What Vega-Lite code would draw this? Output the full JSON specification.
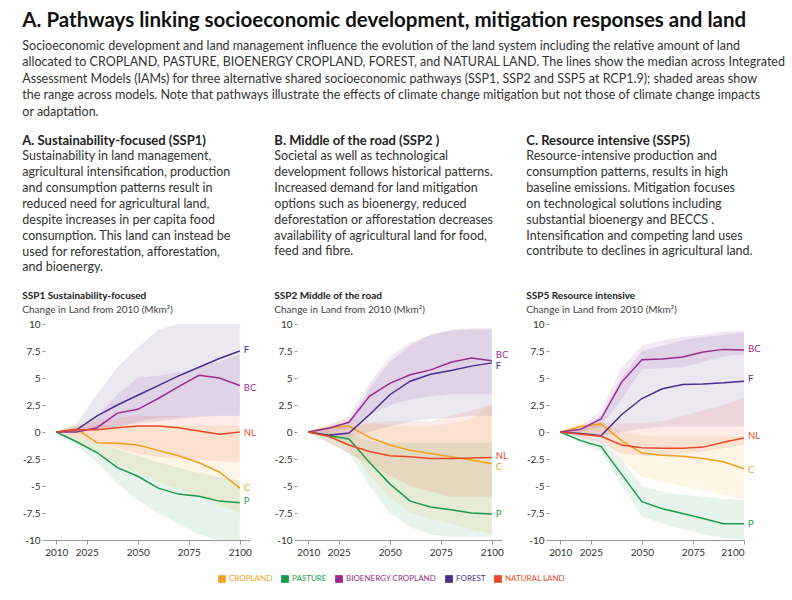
{
  "$schema": "https://vega.github.io/schema/vega-lite/v6.json",
  "padding": {"left": 22, "top": 10, "right": 10, "bottom": 4},
  "background": "white",
  "title": {
    "text": "A. Pathways linking socioeconomic development, mitigation responses and land",
    "subtitle": [
      "Socioeconomic development and land management influence the evolution of the land system including the relative amount of land",
      "allocated to CROPLAND, PASTURE, BIOENERGY CROPLAND, FOREST, and NATURAL LAND. The lines show the median across Integrated",
      "Assessment Models (IAMs) for three alternative shared socioeconomic pathways (SSP1, SSP2 and SSP5 at RCP1.9); shaded areas show",
      "the range across models. Note that pathways illustrate the effects of climate change mitigation but not those of climate change impacts",
      "or adaptation."
    ],
    "anchor": "start",
    "frame": "bounds",
    "font": "Lato",
    "fontSize": 20.5,
    "fontWeight": "bold",
    "color": "#111111",
    "subtitleFont": "Lato",
    "subtitleFontSize": 12.5,
    "subtitleColor": "#333333",
    "subtitleLineHeight": 16.4,
    "subtitlePadding": 9,
    "offset": 17
  },
  "datasets": {
    "d": [
      {"s":"SSP1","c":"CROPLAND","y":2010,"m":0,"lo":0,"hi":0},
      {"s":"SSP1","c":"CROPLAND","y":2020,"m":0.3,"lo":-0.8,"hi":0.6},
      {"s":"SSP1","c":"CROPLAND","y":2030,"m":-1.0,"lo":-2.0,"hi":0.6},
      {"s":"SSP1","c":"CROPLAND","y":2040,"m":-1.05,"lo":-3.0,"hi":0.6},
      {"s":"SSP1","c":"CROPLAND","y":2050,"m":-1.2,"lo":-3.8,"hi":0.6},
      {"s":"SSP1","c":"CROPLAND","y":2060,"m":-1.7,"lo":-4.6,"hi":0.6},
      {"s":"SSP1","c":"CROPLAND","y":2070,"m":-2.2,"lo":-5.3,"hi":0.6},
      {"s":"SSP1","c":"CROPLAND","y":2080,"m":-2.85,"lo":-6.0,"hi":0.6},
      {"s":"SSP1","c":"CROPLAND","y":2090,"m":-3.7,"lo":-6.8,"hi":0.6},
      {"s":"SSP1","c":"CROPLAND","y":2100,"m":-5.2,"lo":-7.5,"hi":0.6},
      {"s":"SSP1","c":"PASTURE","y":2010,"m":0,"lo":0,"hi":0},
      {"s":"SSP1","c":"PASTURE","y":2020,"m":-0.9,"lo":-1.3,"hi":-0.5},
      {"s":"SSP1","c":"PASTURE","y":2030,"m":-1.9,"lo":-2.8,"hi":-1.0},
      {"s":"SSP1","c":"PASTURE","y":2040,"m":-3.3,"lo":-4.8,"hi":-1.6},
      {"s":"SSP1","c":"PASTURE","y":2050,"m":-4.1,"lo":-6.3,"hi":-2.2},
      {"s":"SSP1","c":"PASTURE","y":2060,"m":-5.2,"lo":-7.5,"hi":-2.8},
      {"s":"SSP1","c":"PASTURE","y":2070,"m":-5.75,"lo":-8.5,"hi":-3.3},
      {"s":"SSP1","c":"PASTURE","y":2080,"m":-5.95,"lo":-9.5,"hi":-3.8},
      {"s":"SSP1","c":"PASTURE","y":2090,"m":-6.4,"lo":-10,"hi":-4.2},
      {"s":"SSP1","c":"PASTURE","y":2100,"m":-6.55,"lo":-10,"hi":-4.5},
      {"s":"SSP1","c":"BIOENERGY CROPLAND","y":2010,"m":0,"lo":0,"hi":0},
      {"s":"SSP1","c":"BIOENERGY CROPLAND","y":2020,"m":0,"lo":0,"hi":0.4},
      {"s":"SSP1","c":"BIOENERGY CROPLAND","y":2030,"m":0.4,"lo":0.1,"hi":1.5},
      {"s":"SSP1","c":"BIOENERGY CROPLAND","y":2040,"m":1.75,"lo":0.5,"hi":3.5},
      {"s":"SSP1","c":"BIOENERGY CROPLAND","y":2050,"m":2.1,"lo":1.0,"hi":5.0},
      {"s":"SSP1","c":"BIOENERGY CROPLAND","y":2060,"m":3.1,"lo":1.3,"hi":5.2},
      {"s":"SSP1","c":"BIOENERGY CROPLAND","y":2070,"m":4.2,"lo":1.4,"hi":5.5},
      {"s":"SSP1","c":"BIOENERGY CROPLAND","y":2080,"m":5.25,"lo":1.5,"hi":6.0},
      {"s":"SSP1","c":"BIOENERGY CROPLAND","y":2090,"m":5.0,"lo":1.5,"hi":6.5},
      {"s":"SSP1","c":"BIOENERGY CROPLAND","y":2100,"m":4.3,"lo":1.5,"hi":7.2},
      {"s":"SSP1","c":"FOREST","y":2010,"m":0,"lo":0,"hi":0},
      {"s":"SSP1","c":"FOREST","y":2020,"m":0.2,"lo":0,"hi":0.8},
      {"s":"SSP1","c":"FOREST","y":2030,"m":1.5,"lo":0.3,"hi":3.5},
      {"s":"SSP1","c":"FOREST","y":2040,"m":2.5,"lo":0.5,"hi":6.0},
      {"s":"SSP1","c":"FOREST","y":2050,"m":3.4,"lo":0.8,"hi":7.8},
      {"s":"SSP1","c":"FOREST","y":2060,"m":4.3,"lo":1.0,"hi":9.5},
      {"s":"SSP1","c":"FOREST","y":2070,"m":5.2,"lo":1.2,"hi":10},
      {"s":"SSP1","c":"FOREST","y":2080,"m":6.0,"lo":1.4,"hi":10},
      {"s":"SSP1","c":"FOREST","y":2090,"m":6.8,"lo":1.5,"hi":10},
      {"s":"SSP1","c":"FOREST","y":2100,"m":7.5,"lo":1.5,"hi":10},
      {"s":"SSP1","c":"NATURAL LAND","y":2010,"m":0,"lo":0,"hi":0},
      {"s":"SSP1","c":"NATURAL LAND","y":2020,"m":0.2,"lo":-0.5,"hi":0.6},
      {"s":"SSP1","c":"NATURAL LAND","y":2030,"m":0.2,"lo":-1.0,"hi":1.0},
      {"s":"SSP1","c":"NATURAL LAND","y":2040,"m":0.4,"lo":-1.5,"hi":1.3},
      {"s":"SSP1","c":"NATURAL LAND","y":2050,"m":0.55,"lo":-2.0,"hi":1.5},
      {"s":"SSP1","c":"NATURAL LAND","y":2060,"m":0.55,"lo":-2.3,"hi":1.5},
      {"s":"SSP1","c":"NATURAL LAND","y":2070,"m":0.4,"lo":-2.5,"hi":1.5},
      {"s":"SSP1","c":"NATURAL LAND","y":2080,"m":0.1,"lo":-2.6,"hi":1.5},
      {"s":"SSP1","c":"NATURAL LAND","y":2090,"m":-0.2,"lo":-2.7,"hi":1.5},
      {"s":"SSP1","c":"NATURAL LAND","y":2100,"m":0,"lo":-2.8,"hi":1.5},

      {"s":"SSP2","c":"CROPLAND","y":2010,"m":0,"lo":0,"hi":0},
      {"s":"SSP2","c":"CROPLAND","y":2020,"m":0.4,"lo":-0.5,"hi":0.8},
      {"s":"SSP2","c":"CROPLAND","y":2030,"m":0.55,"lo":-1.5,"hi":1.2},
      {"s":"SSP2","c":"CROPLAND","y":2040,"m":-0.5,"lo":-4.0,"hi":0.8},
      {"s":"SSP2","c":"CROPLAND","y":2050,"m":-1.2,"lo":-6.0,"hi":0.6},
      {"s":"SSP2","c":"CROPLAND","y":2060,"m":-1.7,"lo":-7.5,"hi":0.5},
      {"s":"SSP2","c":"CROPLAND","y":2070,"m":-2.0,"lo":-8.0,"hi":0.5},
      {"s":"SSP2","c":"CROPLAND","y":2080,"m":-2.3,"lo":-8.5,"hi":0.8},
      {"s":"SSP2","c":"CROPLAND","y":2090,"m":-2.6,"lo":-9.0,"hi":1.2},
      {"s":"SSP2","c":"CROPLAND","y":2100,"m":-2.95,"lo":-9.5,"hi":2.8},
      {"s":"SSP2","c":"PASTURE","y":2010,"m":0,"lo":0,"hi":0},
      {"s":"SSP2","c":"PASTURE","y":2020,"m":-0.35,"lo":-1.0,"hi":0},
      {"s":"SSP2","c":"PASTURE","y":2030,"m":-0.65,"lo":-2.0,"hi":-0.2},
      {"s":"SSP2","c":"PASTURE","y":2040,"m":-2.8,"lo":-5.0,"hi":-0.8},
      {"s":"SSP2","c":"PASTURE","y":2050,"m":-4.8,"lo":-7.5,"hi":-1.0},
      {"s":"SSP2","c":"PASTURE","y":2060,"m":-6.4,"lo":-8.8,"hi":-1.0},
      {"s":"SSP2","c":"PASTURE","y":2070,"m":-6.95,"lo":-9.5,"hi":-1.0},
      {"s":"SSP2","c":"PASTURE","y":2080,"m":-7.2,"lo":-9.7,"hi":-1.0},
      {"s":"SSP2","c":"PASTURE","y":2090,"m":-7.5,"lo":-9.7,"hi":-1.0},
      {"s":"SSP2","c":"PASTURE","y":2100,"m":-7.6,"lo":-9.7,"hi":-1.0},
      {"s":"SSP2","c":"BIOENERGY CROPLAND","y":2010,"m":0,"lo":0,"hi":0},
      {"s":"SSP2","c":"BIOENERGY CROPLAND","y":2020,"m":0.35,"lo":0,"hi":0.6},
      {"s":"SSP2","c":"BIOENERGY CROPLAND","y":2030,"m":0.9,"lo":0.3,"hi":1.5},
      {"s":"SSP2","c":"BIOENERGY CROPLAND","y":2040,"m":3.3,"lo":1.5,"hi":4.5},
      {"s":"SSP2","c":"BIOENERGY CROPLAND","y":2050,"m":4.5,"lo":2.5,"hi":7.0},
      {"s":"SSP2","c":"BIOENERGY CROPLAND","y":2060,"m":5.3,"lo":3.0,"hi":8.3},
      {"s":"SSP2","c":"BIOENERGY CROPLAND","y":2070,"m":5.75,"lo":3.3,"hi":9.0},
      {"s":"SSP2","c":"BIOENERGY CROPLAND","y":2080,"m":6.45,"lo":3.5,"hi":9.5},
      {"s":"SSP2","c":"BIOENERGY CROPLAND","y":2090,"m":6.85,"lo":3.5,"hi":9.6},
      {"s":"SSP2","c":"BIOENERGY CROPLAND","y":2100,"m":6.6,"lo":3.5,"hi":9.6},
      {"s":"SSP2","c":"FOREST","y":2010,"m":0,"lo":0,"hi":0},
      {"s":"SSP2","c":"FOREST","y":2020,"m":-0.3,"lo":-0.5,"hi":0.3},
      {"s":"SSP2","c":"FOREST","y":2030,"m":-0.1,"lo":-0.5,"hi":1.0},
      {"s":"SSP2","c":"FOREST","y":2040,"m":1.6,"lo":0,"hi":4.0},
      {"s":"SSP2","c":"FOREST","y":2050,"m":3.45,"lo":0.5,"hi":6.5},
      {"s":"SSP2","c":"FOREST","y":2060,"m":4.7,"lo":1.0,"hi":8.0},
      {"s":"SSP2","c":"FOREST","y":2070,"m":5.35,"lo":1.2,"hi":9.0},
      {"s":"SSP2","c":"FOREST","y":2080,"m":5.7,"lo":1.3,"hi":9.4},
      {"s":"SSP2","c":"FOREST","y":2090,"m":6.1,"lo":1.5,"hi":9.5},
      {"s":"SSP2","c":"FOREST","y":2100,"m":6.4,"lo":1.5,"hi":9.5},
      {"s":"SSP2","c":"NATURAL LAND","y":2010,"m":0,"lo":0,"hi":0},
      {"s":"SSP2","c":"NATURAL LAND","y":2020,"m":-0.4,"lo":-1.0,"hi":0.3},
      {"s":"SSP2","c":"NATURAL LAND","y":2030,"m":-1.2,"lo":-2.0,"hi":0.5},
      {"s":"SSP2","c":"NATURAL LAND","y":2040,"m":-1.8,"lo":-3.0,"hi":0.8},
      {"s":"SSP2","c":"NATURAL LAND","y":2050,"m":-2.2,"lo":-4.0,"hi":1.0},
      {"s":"SSP2","c":"NATURAL LAND","y":2060,"m":-2.3,"lo":-5.0,"hi":1.0},
      {"s":"SSP2","c":"NATURAL LAND","y":2070,"m":-2.45,"lo":-5.5,"hi":1.0},
      {"s":"SSP2","c":"NATURAL LAND","y":2080,"m":-2.45,"lo":-6.0,"hi":1.5},
      {"s":"SSP2","c":"NATURAL LAND","y":2090,"m":-2.4,"lo":-6.0,"hi":2.0},
      {"s":"SSP2","c":"NATURAL LAND","y":2100,"m":-2.35,"lo":-6.0,"hi":2.5},

      {"s":"SSP5","c":"CROPLAND","y":2010,"m":0,"lo":0,"hi":0},
      {"s":"SSP5","c":"CROPLAND","y":2020,"m":0.5,"lo":-0.3,"hi":0.8},
      {"s":"SSP5","c":"CROPLAND","y":2030,"m":0.75,"lo":-0.5,"hi":1.0},
      {"s":"SSP5","c":"CROPLAND","y":2040,"m":-0.8,"lo":-2.5,"hi":0},
      {"s":"SSP5","c":"CROPLAND","y":2050,"m":-1.95,"lo":-4.2,"hi":-0.3},
      {"s":"SSP5","c":"CROPLAND","y":2060,"m":-2.15,"lo":-4.6,"hi":-0.4},
      {"s":"SSP5","c":"CROPLAND","y":2070,"m":-2.25,"lo":-5.0,"hi":-0.4},
      {"s":"SSP5","c":"CROPLAND","y":2080,"m":-2.45,"lo":-5.4,"hi":-0.4},
      {"s":"SSP5","c":"CROPLAND","y":2090,"m":-2.75,"lo":-5.8,"hi":-0.4},
      {"s":"SSP5","c":"CROPLAND","y":2100,"m":-3.4,"lo":-6.2,"hi":-0.4},
      {"s":"SSP5","c":"PASTURE","y":2010,"m":0,"lo":0,"hi":0},
      {"s":"SSP5","c":"PASTURE","y":2020,"m":-0.8,"lo":-1.0,"hi":-0.3},
      {"s":"SSP5","c":"PASTURE","y":2030,"m":-1.35,"lo":-1.8,"hi":-0.8},
      {"s":"SSP5","c":"PASTURE","y":2040,"m":-3.9,"lo":-5.0,"hi":-2.5},
      {"s":"SSP5","c":"PASTURE","y":2050,"m":-6.45,"lo":-7.8,"hi":-5.0},
      {"s":"SSP5","c":"PASTURE","y":2060,"m":-7.1,"lo":-8.5,"hi":-5.5},
      {"s":"SSP5","c":"PASTURE","y":2070,"m":-7.55,"lo":-9.0,"hi":-5.8},
      {"s":"SSP5","c":"PASTURE","y":2080,"m":-8.0,"lo":-9.5,"hi":-6.0},
      {"s":"SSP5","c":"PASTURE","y":2090,"m":-8.5,"lo":-9.8,"hi":-6.2},
      {"s":"SSP5","c":"PASTURE","y":2100,"m":-8.5,"lo":-10,"hi":-6.3},
      {"s":"SSP5","c":"BIOENERGY CROPLAND","y":2010,"m":0,"lo":0,"hi":0},
      {"s":"SSP5","c":"BIOENERGY CROPLAND","y":2020,"m":0.25,"lo":0,"hi":0.5},
      {"s":"SSP5","c":"BIOENERGY CROPLAND","y":2030,"m":1.2,"lo":0.5,"hi":2.0},
      {"s":"SSP5","c":"BIOENERGY CROPLAND","y":2040,"m":4.6,"lo":3.0,"hi":6.0},
      {"s":"SSP5","c":"BIOENERGY CROPLAND","y":2050,"m":6.7,"lo":5.8,"hi":8.0},
      {"s":"SSP5","c":"BIOENERGY CROPLAND","y":2060,"m":6.75,"lo":5.9,"hi":8.5},
      {"s":"SSP5","c":"BIOENERGY CROPLAND","y":2070,"m":6.95,"lo":6.0,"hi":8.8},
      {"s":"SSP5","c":"BIOENERGY CROPLAND","y":2080,"m":7.4,"lo":6.5,"hi":9.0},
      {"s":"SSP5","c":"BIOENERGY CROPLAND","y":2090,"m":7.65,"lo":7.0,"hi":9.3},
      {"s":"SSP5","c":"BIOENERGY CROPLAND","y":2100,"m":7.6,"lo":7.2,"hi":9.4},
      {"s":"SSP5","c":"FOREST","y":2010,"m":0,"lo":0,"hi":0},
      {"s":"SSP5","c":"FOREST","y":2020,"m":-0.15,"lo":-0.3,"hi":0.3},
      {"s":"SSP5","c":"FOREST","y":2030,"m":-0.35,"lo":-0.5,"hi":1.5},
      {"s":"SSP5","c":"FOREST","y":2040,"m":1.6,"lo":0,"hi":5.0},
      {"s":"SSP5","c":"FOREST","y":2050,"m":3.1,"lo":0.3,"hi":7.5},
      {"s":"SSP5","c":"FOREST","y":2060,"m":4.0,"lo":0.5,"hi":8.0},
      {"s":"SSP5","c":"FOREST","y":2070,"m":4.4,"lo":0.5,"hi":8.5},
      {"s":"SSP5","c":"FOREST","y":2080,"m":4.45,"lo":0.5,"hi":8.8},
      {"s":"SSP5","c":"FOREST","y":2090,"m":4.55,"lo":0.5,"hi":9.0},
      {"s":"SSP5","c":"FOREST","y":2100,"m":4.7,"lo":0.5,"hi":9.2},
      {"s":"SSP5","c":"NATURAL LAND","y":2010,"m":0,"lo":0,"hi":0},
      {"s":"SSP5","c":"NATURAL LAND","y":2020,"m":-0.2,"lo":-0.5,"hi":0.3},
      {"s":"SSP5","c":"NATURAL LAND","y":2030,"m":-0.4,"lo":-1.0,"hi":0.8},
      {"s":"SSP5","c":"NATURAL LAND","y":2040,"m":-1.2,"lo":-2.0,"hi":0.8},
      {"s":"SSP5","c":"NATURAL LAND","y":2050,"m":-1.45,"lo":-2.2,"hi":0.8},
      {"s":"SSP5","c":"NATURAL LAND","y":2060,"m":-1.5,"lo":-2.2,"hi":1.0},
      {"s":"SSP5","c":"NATURAL LAND","y":2070,"m":-1.5,"lo":-2.0,"hi":1.5},
      {"s":"SSP5","c":"NATURAL LAND","y":2080,"m":-1.4,"lo":-1.8,"hi":2.0},
      {"s":"SSP5","c":"NATURAL LAND","y":2090,"m":-0.95,"lo":-1.5,"hi":2.5},
      {"s":"SSP5","c":"NATURAL LAND","y":2100,"m":-0.55,"lo":-1.2,"hi":3.2}
    ],
    "lab": [
      {"s":"SSP1","c":"CROPLAND","y":2100,"v":-5.2,"t":"C"},
      {"s":"SSP1","c":"PASTURE","y":2100,"v":-6.4,"t":"P"},
      {"s":"SSP1","c":"BIOENERGY CROPLAND","y":2100,"v":4.1,"t":"BC"},
      {"s":"SSP1","c":"FOREST","y":2100,"v":7.6,"t":"F"},
      {"s":"SSP1","c":"NATURAL LAND","y":2100,"v":-0.1,"t":"NL"},
      {"s":"SSP2","c":"CROPLAND","y":2100,"v":-3.2,"t":"C"},
      {"s":"SSP2","c":"PASTURE","y":2100,"v":-7.6,"t":"P"},
      {"s":"SSP2","c":"BIOENERGY CROPLAND","y":2100,"v":7.15,"t":"BC"},
      {"s":"SSP2","c":"FOREST","y":2100,"v":6.15,"t":"F"},
      {"s":"SSP2","c":"NATURAL LAND","y":2100,"v":-2.2,"t":"NL"},
      {"s":"SSP5","c":"CROPLAND","y":2100,"v":-3.55,"t":"C"},
      {"s":"SSP5","c":"PASTURE","y":2100,"v":-8.5,"t":"P"},
      {"s":"SSP5","c":"BIOENERGY CROPLAND","y":2100,"v":7.65,"t":"BC"},
      {"s":"SSP5","c":"FOREST","y":2100,"v":4.9,"t":"F"},
      {"s":"SSP5","c":"NATURAL LAND","y":2100,"v":-0.37,"t":"NL"}
    ]
  },
  "hconcat": [
    {
      "title": {
        "text": "A. Sustainability-focused (SSP1)",
        "subtitle": [
          "Sustainability in land management,",
          "agricultural intensification,  production",
          "and consumption patterns result in",
          "reduced need for agricultural land,",
          "despite increases in per capita food",
          "consumption. This land can instead be",
          "used for reforestation, afforestation,",
          "and bioenergy."
        ],
        "anchor": "start", "frame": "bounds", "font": "Lato", "fontSize": 13, "fontWeight": "bold", "color": "#222222",
        "subtitleFont": "Lato", "subtitleFontSize": 12.5, "subtitleColor": "#333333", "subtitleLineHeight": 15.9, "subtitlePadding": 2, "offset": 17
      },
      "vconcat": [
        {
          "title": {"text": "SSP1 Sustainability-focused", "subtitle": "Change in Land from 2010 (Mkm²)", "anchor": "start", "frame": "bounds",
            "font": "Lato", "fontSize": 10, "fontWeight": "bold", "color": "#222222", "subtitleFont": "Lato", "subtitleFontSize": 10, "subtitleColor": "#444444", "subtitlePadding": 4, "offset": 4},
          "width": 205, "height": 216,
          "encoding": {
            "x": {"field": "y", "type": "quantitative", "scale": {"domain": [2004.5, 2105], "nice": false, "zero": false},
              "axis": {"values": [2010, 2025, 2050, 2075, 2100], "format": "d", "title": null, "grid": false, "domainColor": "#999999", "tickColor": "#999999", "tickSize": 4, "labelFontSize": 10, "labelColor": "#333333", "labelFont": "Lato", "labelPadding": 3}},
            "color": {"field": "c", "type": "nominal",
              "scale": {"domain": ["CROPLAND", "PASTURE", "BIOENERGY CROPLAND", "FOREST", "NATURAL LAND"], "range": ["#f2a11f", "#1e9a4b", "#9a2c8e", "#4a2d8c", "#e84a27"]},
              "legend": {"orient": "bottom", "direction": "horizontal", "title": null, "symbolType": "square", "symbolSize": 60, "labelFont": "Lato", "labelFontSize": 8, "columnPadding": 8, "labelOffset": 3, "offset": 18,
                "symbolOpacity": 1, "symbolStrokeWidth": 0,
                "labelColor": {"expr": "scale('color', datum.value)"},
                "symbolFillColor": {"expr": "scale('color', datum.value)"}}}
          },
          "layer": [
            {"data": {"name": "d"}, "transform": [{"filter": "datum.s == 'SSP1'"}],
              "mark": {"type": "area", "opacity": 0.11},
              "encoding": {"y": {"field": "lo", "type": "quantitative", "scale": {"domain": [-10, 10], "nice": false},
                  "axis": {"values": [-10, -7.5, -5, -2.5, 0, 2.5, 5, 7.5, 10], "labelExpr": "'' + datum.value", "title": null, "grid": false, "domain": false, "tickColor": "#999999", "tickSize": 3, "labelPadding": 2, "labelFontSize": 10, "labelColor": "#333333", "labelFont": "Lato", "labelOverlap": false}},
                "y2": {"field": "hi"}}},
            {"data": {"name": "d"}, "transform": [{"filter": "datum.s == 'SSP1'"}],
              "mark": {"type": "line", "strokeWidth": 1.5},
              "encoding": {"y": {"field": "m", "type": "quantitative",
                  "axis": {"values": [-10, -7.5, -5, -2.5, 0, 2.5, 5, 7.5, 10], "labelExpr": "'' + datum.value", "title": null, "grid": false, "domain": false, "tickColor": "#999999", "tickSize": 3, "labelPadding": 2, "labelFontSize": 10, "labelColor": "#333333", "labelFont": "Lato", "labelOverlap": false}}}},
            {"data": {"name": "lab"}, "transform": [{"filter": "datum.s == 'SSP1'"}],
              "mark": {"type": "text", "align": "left", "dx": 4, "font": "Lato", "fontSize": 9.5},
              "encoding": {"y": {"field": "v", "type": "quantitative",
                  "axis": {"values": [-10, -7.5, -5, -2.5, 0, 2.5, 5, 7.5, 10], "labelExpr": "'' + datum.value", "title": null, "grid": false, "domain": false, "tickColor": "#999999", "tickSize": 3, "labelPadding": 2, "labelFontSize": 10, "labelColor": "#333333", "labelFont": "Lato", "labelOverlap": false}}, "text": {"field": "t"}}}
          ]
        }
      ]
    },
    {
      "title": {
        "text": "B. Middle of the road (SSP2 )",
        "subtitle": [
          "Societal as well as technological",
          "development follows historical patterns.",
          "Increased demand for land mitigation",
          "options such as bioenergy, reduced",
          "deforestation or afforestation decreases",
          "availability of agricultural land for food,",
          "feed and fibre."
        ],
        "anchor": "start", "frame": "bounds", "font": "Lato", "fontSize": 13, "fontWeight": "bold", "color": "#222222",
        "subtitleFont": "Lato", "subtitleFontSize": 12.5, "subtitleColor": "#333333", "subtitleLineHeight": 15.9, "subtitlePadding": 2, "offset": 33
      },
      "vconcat": [
        {
          "title": {"text": "SSP2 Middle of the road", "subtitle": "Change in Land from 2010 (Mkm²)", "anchor": "start", "frame": "bounds",
            "font": "Lato", "fontSize": 10, "fontWeight": "bold", "color": "#222222", "subtitleFont": "Lato", "subtitleFontSize": 10, "subtitleColor": "#444444", "subtitlePadding": 4, "offset": 4},
          "width": 205, "height": 216,
          "encoding": {
            "x": {"field": "y", "type": "quantitative", "scale": {"domain": [2004.5, 2105], "nice": false, "zero": false},
              "axis": {"values": [2010, 2025, 2050, 2075, 2100], "format": "d", "title": null, "grid": false, "domainColor": "#999999", "tickColor": "#999999", "tickSize": 4, "labelFontSize": 10, "labelColor": "#333333", "labelFont": "Lato", "labelPadding": 3}},
            "color": {"field": "c", "type": "nominal",
              "legend": {"orient": "bottom", "direction": "horizontal", "title": null, "symbolType": "square", "symbolSize": 60, "labelFont": "Lato", "labelFontSize": 8, "columnPadding": 8, "labelOffset": 3, "offset": 18,
                "symbolOpacity": 1, "symbolStrokeWidth": 0,
                "labelColor": {"expr": "scale('color', datum.value)"},
                "symbolFillColor": {"expr": "scale('color', datum.value)"}}}
          },
          "layer": [
            {"data": {"name": "d"}, "transform": [{"filter": "datum.s == 'SSP2'"}],
              "mark": {"type": "area", "opacity": 0.11},
              "encoding": {"y": {"field": "lo", "type": "quantitative", "scale": {"domain": [-10, 10], "nice": false},
                  "axis": {"values": [-10, -7.5, -5, -2.5, 0, 2.5, 5, 7.5, 10], "labelExpr": "'' + datum.value", "title": null, "grid": false, "domain": false, "tickColor": "#999999", "tickSize": 3, "labelPadding": 2, "labelFontSize": 10, "labelColor": "#333333", "labelFont": "Lato", "labelOverlap": false}},
                "y2": {"field": "hi"}}},
            {"data": {"name": "d"}, "transform": [{"filter": "datum.s == 'SSP2'"}],
              "mark": {"type": "line", "strokeWidth": 1.5},
              "encoding": {"y": {"field": "m", "type": "quantitative",
                  "axis": {"values": [-10, -7.5, -5, -2.5, 0, 2.5, 5, 7.5, 10], "labelExpr": "'' + datum.value", "title": null, "grid": false, "domain": false, "tickColor": "#999999", "tickSize": 3, "labelPadding": 2, "labelFontSize": 10, "labelColor": "#333333", "labelFont": "Lato", "labelOverlap": false}}}},
            {"data": {"name": "lab"}, "transform": [{"filter": "datum.s == 'SSP2'"}],
              "mark": {"type": "text", "align": "left", "dx": 4, "font": "Lato", "fontSize": 9.5},
              "encoding": {"y": {"field": "v", "type": "quantitative",
                  "axis": {"values": [-10, -7.5, -5, -2.5, 0, 2.5, 5, 7.5, 10], "labelExpr": "'' + datum.value", "title": null, "grid": false, "domain": false, "tickColor": "#999999", "tickSize": 3, "labelPadding": 2, "labelFontSize": 10, "labelColor": "#333333", "labelFont": "Lato", "labelOverlap": false}}, "text": {"field": "t"}}}
          ]
        }
      ]
    },
    {
      "title": {
        "text": "C. Resource intensive (SSP5)",
        "subtitle": [
          "Resource-intensive production and",
          "consumption patterns,  results in high",
          "baseline emissions. Mitigation focuses",
          "on technological solutions including",
          "substantial bioenergy and BECCS .",
          "Intensification and competing land uses",
          "contribute to declines in agricultural land."
        ],
        "anchor": "start", "frame": "bounds", "font": "Lato", "fontSize": 13, "fontWeight": "bold", "color": "#222222",
        "subtitleFont": "Lato", "subtitleFontSize": 12.5, "subtitleColor": "#333333", "subtitleLineHeight": 15.9, "subtitlePadding": 2, "offset": 33
      },
      "vconcat": [
        {
          "title": {"text": "SSP5 Resource intensive", "subtitle": "Change in Land from 2010 (Mkm²)", "anchor": "start", "frame": "bounds",
            "font": "Lato", "fontSize": 10, "fontWeight": "bold", "color": "#222222", "subtitleFont": "Lato", "subtitleFontSize": 10, "subtitleColor": "#444444", "subtitlePadding": 4, "offset": 4},
          "width": 195, "height": 216,
          "encoding": {
            "x": {"field": "y", "type": "quantitative", "scale": {"domain": [2004.5, 2100], "nice": false, "zero": false},
              "axis": {"values": [2010, 2025, 2050, 2075, 2100], "format": "d", "title": null, "grid": false, "domainColor": "#999999", "tickColor": "#999999", "tickSize": 4, "labelFontSize": 10, "labelColor": "#333333", "labelFont": "Lato", "labelPadding": 3}},
            "color": {"field": "c", "type": "nominal",
              "legend": {"orient": "bottom", "direction": "horizontal", "title": null, "symbolType": "square", "symbolSize": 60, "labelFont": "Lato", "labelFontSize": 8, "columnPadding": 8, "labelOffset": 3, "offset": 18,
                "symbolOpacity": 1, "symbolStrokeWidth": 0,
                "labelColor": {"expr": "scale('color', datum.value)"},
                "symbolFillColor": {"expr": "scale('color', datum.value)"}}}
          },
          "layer": [
            {"data": {"name": "d"}, "transform": [{"filter": "datum.s == 'SSP5'"}],
              "mark": {"type": "area", "opacity": 0.11},
              "encoding": {"y": {"field": "lo", "type": "quantitative", "scale": {"domain": [-10, 10], "nice": false},
                  "axis": {"values": [-10, -7.5, -5, -2.5, 0, 2.5, 5, 7.5, 10], "labelExpr": "'' + datum.value", "title": null, "grid": false, "domain": false, "tickColor": "#999999", "tickSize": 3, "labelPadding": 2, "labelFontSize": 10, "labelColor": "#333333", "labelFont": "Lato", "labelOverlap": false}},
                "y2": {"field": "hi"}}},
            {"data": {"name": "d"}, "transform": [{"filter": "datum.s == 'SSP5'"}],
              "mark": {"type": "line", "strokeWidth": 1.5},
              "encoding": {"y": {"field": "m", "type": "quantitative",
                  "axis": {"values": [-10, -7.5, -5, -2.5, 0, 2.5, 5, 7.5, 10], "labelExpr": "'' + datum.value", "title": null, "grid": false, "domain": false, "tickColor": "#999999", "tickSize": 3, "labelPadding": 2, "labelFontSize": 10, "labelColor": "#333333", "labelFont": "Lato", "labelOverlap": false}}}},
            {"data": {"name": "lab"}, "transform": [{"filter": "datum.s == 'SSP5'"}],
              "mark": {"type": "text", "align": "left", "dx": 4, "font": "Lato", "fontSize": 9.5},
              "encoding": {"y": {"field": "v", "type": "quantitative",
                  "axis": {"values": [-10, -7.5, -5, -2.5, 0, 2.5, 5, 7.5, 10], "labelExpr": "'' + datum.value", "title": null, "grid": false, "domain": false, "tickColor": "#999999", "tickSize": 3, "labelPadding": 2, "labelFontSize": 10, "labelColor": "#333333", "labelFont": "Lato", "labelOverlap": false}}, "text": {"field": "t"}}}
          ]
        }
      ]
    }
  ],
  "spacing": 17,
  "resolve": {"scale": {"color": "shared"}},
  "config": {
    "view": {"stroke": null},
    "legend": {"layout": {"anchor": "middle"}}
  }
}
